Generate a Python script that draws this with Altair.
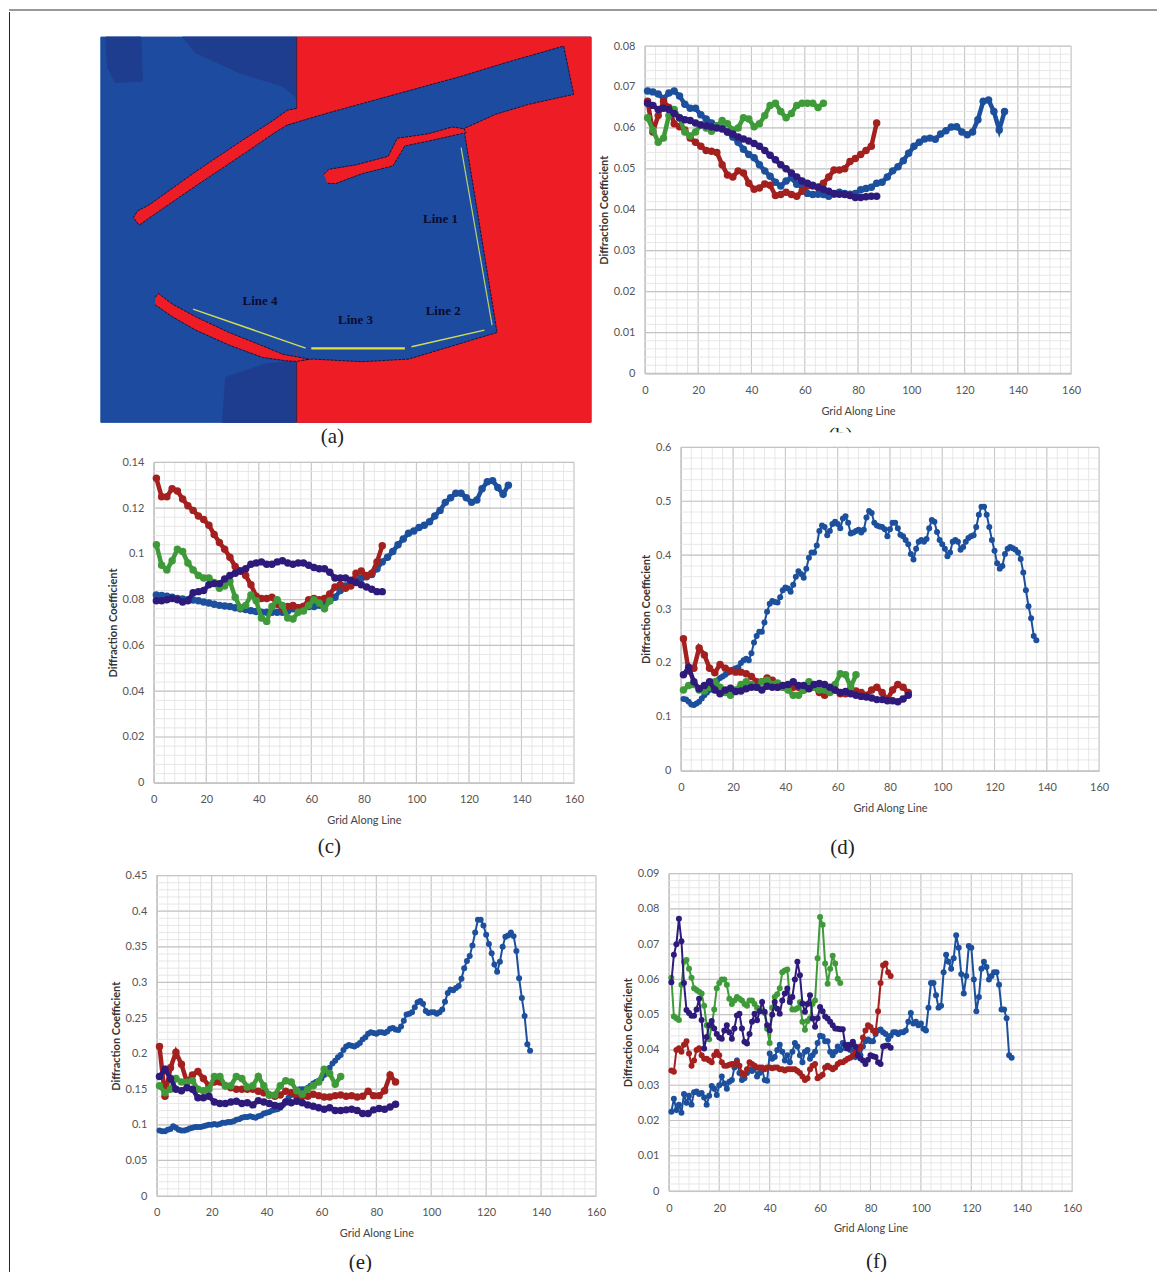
import altair as alt
import pandas as pd

BLUE, RED, GREEN, PURPLE = "#1c4f9c", "#a3201f", "#3f9a3a", "#2e1a7a"
X_TICKS = list(range(0, 161, 20))
X_MINOR = list(range(0, 161, 4))

# values are stored as integers; "div" turns them into the axis units. "step" is the spacing along x.
b_blue = [690,688,683,672,685,690,678,658,648,648,632,622,612,605,600,590,578,565,548,535,527,510,495,482,467,458,470,478,462,458,440,437,438,437,433,438,443,440,438,440,449,452,455,465,467,480,495,505,520,538,555,565,573,575,572,585,593,602,603,590,583,590,620,665,668,640,595,640]
b_red = [665,590,630,665,650,610,603,595,575,565,555,545,543,540,510,485,480,495,490,465,450,453,463,460,435,437,443,437,433,445,458,458,455,465,480,497,497,500,518,525,535,545,555,612]
b_green = [625,595,565,575,630,645,625,590,580,590,608,600,592,605,618,610,595,600,625,622,603,610,630,655,660,640,625,635,655,660,660,660,650,660]
b_purple = [660,655,645,648,645,635,625,620,618,612,607,605,602,600,597,590,585,578,573,568,562,555,545,533,522,510,500,490,480,470,465,460,455,450,445,440,438,437,435,430,430,432,433,433]

c_blue = [820,818,815,810,805,803,800,798,795,790,785,780,775,772,770,765,760,757,752,748,745,745,745,745,745,750,760,765,770,770,770,775,780,795,810,840,860,875,885,895,900,910,935,965,985,1010,1040,1065,1090,1100,1115,1125,1140,1165,1190,1225,1245,1265,1265,1245,1225,1235,1285,1315,1320,1290,1260,1300]
c_red = [1330,1250,1250,1285,1275,1240,1210,1190,1165,1150,1125,1085,1050,1020,985,945,925,905,865,815,805,805,810,780,760,770,775,765,770,800,805,800,805,825,855,865,850,860,915,925,905,915,965,1035]
c_green = [1040,950,930,970,1020,1010,960,930,905,895,895,875,850,860,880,810,765,775,820,795,720,705,770,800,775,720,715,745,750,775,800,785,760,795]
c_purple = [795,795,800,805,800,790,795,830,835,840,865,870,870,890,905,915,925,935,955,960,965,955,955,965,970,960,955,960,960,950,940,935,935,920,895,895,895,885,875,865,855,845,835,835]

d_blue = [133,132,128,123,122,125,128,134,140,145,150,155,160,168,172,175,178,182,186,188,190,192,200,205,208,205,218,238,250,258,258,275,295,310,315,313,312,322,335,340,338,332,345,360,370,365,358,375,395,405,405,418,445,455,452,437,445,458,462,458,450,468,472,460,440,442,445,447,442,447,470,482,478,460,455,453,452,448,435,448,460,460,450,438,435,428,420,402,392,412,425,428,425,430,450,465,462,443,428,420,412,398,405,425,428,425,410,415,425,432,435,437,452,475,490,490,475,452,428,408,385,375,380,402,412,415,413,410,405,393,368,335,305,283,250,242]
d_red = [245,185,190,228,215,190,182,197,190,185,183,183,180,175,165,165,172,168,155,155,155,155,155,150,155,155,145,140,150,150,143,143,150,148,145,140,150,155,145,132,150,160,155,145]
d_green = [150,158,160,150,148,155,165,155,145,140,150,160,165,160,155,165,168,160,163,155,150,140,140,150,165,155,150,150,145,160,180,178,155,178]
d_purple = [178,192,165,152,158,165,150,143,150,153,147,148,152,155,155,150,157,155,155,158,160,165,158,158,152,160,162,160,155,150,145,147,143,140,138,137,135,132,132,130,130,128,133,140]

e_blue = [92,91,91,93,94,98,96,93,92,92,93,95,96,97,97,97,98,99,100,100,101,100,101,103,103,104,104,105,107,108,110,111,111,112,111,110,112,113,116,117,118,120,121,122,124,128,133,138,142,145,148,150,150,150,152,155,158,160,162,165,170,175,180,186,190,195,198,205,210,212,211,210,212,215,220,223,228,230,229,228,230,230,229,231,235,236,234,233,238,246,255,256,258,265,272,274,270,260,257,258,258,256,258,262,273,285,290,289,292,295,305,320,330,337,352,370,388,388,380,367,354,341,325,315,329,350,364,366,370,365,344,306,278,253,213,204]
e_red = [210,140,180,202,185,160,170,175,165,155,160,160,155,152,150,150,150,150,147,145,142,140,142,147,145,140,140,140,143,141,139,139,141,142,140,141,139,140,147,141,141,148,170,160]
e_green = [155,145,150,165,160,160,162,150,148,150,168,168,155,155,168,165,153,155,168,155,142,142,155,162,160,148,143,150,155,160,178,172,157,168]
e_purple = [168,178,165,150,148,152,150,138,138,140,132,130,130,132,133,130,131,128,134,132,130,127,126,132,131,133,131,128,126,124,122,124,120,120,121,122,120,116,116,121,123,122,125,129]

f_blue = [225,262,230,245,222,275,250,270,245,280,282,275,278,265,245,270,298,290,272,300,325,305,290,310,315,350,370,335,315,320,335,345,340,350,325,335,345,315,313,390,375,380,400,415,395,370,385,365,395,420,410,385,365,395,400,375,385,395,420,440,438,425,425,395,385,395,410,400,420,405,415,400,420,380,400,385,410,425,430,425,425,445,455,458,450,445,430,440,450,450,445,450,450,455,480,505,475,480,470,475,460,455,520,590,590,555,520,525,620,670,650,630,660,725,690,615,560,610,695,690,600,510,550,630,650,635,600,610,620,620,585,515,515,490,385,378]
f_red = [342,338,400,405,395,415,425,390,355,370,400,405,385,375,375,370,365,385,395,385,365,355,355,358,360,360,365,355,335,330,345,365,360,355,350,350,350,345,350,350,348,350,350,345,345,342,345,345,345,345,340,335,325,315,320,345,355,360,320,325,330,350,355,350,345,350,360,365,365,370,375,378,385,395,400,410,435,455,470,465,455,450,510,590,640,645,620,610]
f_green = [605,495,490,485,585,650,655,630,605,575,570,565,560,525,470,430,470,515,575,590,600,600,585,545,530,540,550,545,540,530,525,540,540,530,520,515,510,505,460,420,520,550,558,575,620,625,628,545,515,515,518,535,480,457,482,490,530,540,660,777,755,645,588,630,667,645,602,590]
f_purple = [592,670,700,772,708,590,513,505,497,497,515,545,485,404,437,470,482,461,445,435,432,455,470,450,432,461,498,503,461,423,418,445,480,503,484,510,536,508,470,456,500,536,517,503,540,560,574,536,550,600,650,612,532,508,530,555,489,466,490,522,510,495,489,480,470,461,460,459,459,414,404,415,423,410,385,376,370,360,372,385,382,380,365,360,410,412,413,406]

# map of panel (a), in image coordinates (y downwards)
MAP_FRAME = [[15,18],[1487,18],[1487,1175],[15,1175]]
MAP_RED = [[603,18],[1487,18],[1487,1175],[603,1175]]
MAP_DARK = [
    [[30,18],[135,18],[140,150],[60,155],[35,110]],
    [[260,18],[603,18],[603,200],[560,165],[430,125],[300,65]],
    [[380,1175],[603,1175],[603,990],[510,1000],[390,1040]],
]
MAP_WATER = [[575,282],[700,245],[900,190],[1100,135],[1230,95],[1405,45],[1435,190],[1300,220],[1200,250],[1105,293],[1205,905],[940,985],[800,993],[650,985],[603,990]]
MAP_WALLS = [
    [[603,232],[575,238],[530,270],[440,328],[300,422],[160,522],[125,540],[113,560],[130,583],[155,565],[300,465],[450,365],[540,303],[575,282],[603,274]],
    [[685,430],[700,415],[780,402],[878,376],[905,322],[1000,308],[1070,288],[1105,293],[1112,305],[1000,330],[928,345],[892,405],[800,428],[720,458],[695,457]],
    [[178,800],[188,788],[230,820],[300,858],[400,905],[500,945],[560,970],[640,985],[603,992],[570,990],[500,980],[400,943],[300,898],[230,858],[190,830],[178,822]],
]
MAP_EDGES = [[[603,18],[603,232]], [[603,992],[603,1175]]]
MAP_LINES = [
    ([[1097,350],[1190,883]], "#b9d26a", 1.2),
    ([[948,948],[1167,898]], "#cfdc5a", 1.5),
    ([[647,953],[928,953]], "#e6df3c", 2.2),
    ([[292,835],[630,952]], "#cfdc5a", 1.5),
]
MAP_LABELS = ["Line 1", "Line 2", "Line 3", "Line 4"]
MAP_LABEL_X = [1035, 1043, 780, 493]
MAP_LABEL_Y = [563, 842, 867, 812]


def poly(points):
    return {"type": "Feature", "properties": {}, "geometry": {"type": "Polygon", "coordinates": [points + [points[0]]]}}


def line(points):
    return {"type": "Feature", "properties": {}, "geometry": {"type": "LineString", "coordinates": points}}


def geo(features, **mark):
    return alt.Chart(alt.Data(values=features)).mark_geoshape(**mark).project(type="identity")


def caption(text, x, y):
    return alt.Chart(pd.DataFrame({"t": [text]})).mark_text(
        font="Liberation Serif", fontSize=21, color="#222222"
    ).encode(text="t:N", x=alt.value(x), y=alt.value(y))


def spacer(w, h):
    return alt.Chart(pd.DataFrame({"v": [0]})).mark_point(opacity=0, size=1).encode(
        x=alt.value(w / 2), y=alt.value(h / 2)
    ).properties(width=w, height=h)


def map_panel(w, h):
    edge = "#14143c"
    dash = [3, 1]
    layers = [geo([poly(MAP_FRAME)], fill="#1c4ba0", stroke="#1c4ba0")]
    layers.append(geo([poly(p) for p in MAP_DARK], fill="#1f3d8e", stroke="#1f3d8e"))
    layers.append(geo([poly(MAP_RED)], fill="#ee1c25", stroke="#ee1c25"))
    layers.append(geo([poly(MAP_WATER)], fill="#1c4ba0"))
    layers.append(geo([line(p) for p in MAP_EDGES], filled=False, stroke="#20204a", strokeWidth=0.9))
    layers.append(geo([line(MAP_WATER)], filled=False, stroke=edge, strokeWidth=1, strokeDash=dash))
    layers.append(geo([poly(p) for p in MAP_WALLS], fill="#ee1c25"))
    layers.append(geo([line(p) for p in MAP_WALLS], filled=False, stroke=edge, strokeWidth=1, strokeDash=dash))
    for pts, col, sw in MAP_LINES:
        layers.append(geo([line(pts)], filled=False, stroke=col, strokeWidth=sw))
    labels = pd.DataFrame({"t": MAP_LABELS, "lon": MAP_LABEL_X, "lat": MAP_LABEL_Y})
    layers.append(
        alt.Chart(labels).mark_text(font="Liberation Serif", fontSize=13, fontWeight="bold", color="#0c0c30")
        .encode(text="t:N", longitude="lon:Q", latitude="lat:Q").project(type="identity")
    )
    return alt.layer(*layers).properties(width=w, height=h)


def panel(series, div, steps, ymax, ymajor, w, h, cap, top=None):
    xs = alt.Scale(domain=[0, 160], nice=False, zero=False)
    ys = alt.Scale(domain=[0, ymax], nice=False, zero=False)
    y_major = [round(ymajor * i, 6) for i in range(round(ymax / ymajor) + 1)]
    y_minor = [round(ymajor / 5 * i, 6) for i in range(round(ymax / ymajor) * 5 + 1)]
    x_axis = alt.Axis(values=X_TICKS, grid=False, ticks=False, labelPadding=11, labelFontSize=11,
                      labelFont="Lato", labelColor="#555555", domainColor="#a8a8a8", title="Grid Along Line",
                      titleFont="Lato", titleFontSize=11, titleFontWeight="normal", titleColor="#444444",
                      titlePadding=10, labelFlush=False, labelOverlap=False)
    y_axis = alt.Axis(values=y_major, grid=False, ticks=False, labelPadding=10, labelFontSize=11,
                      labelFont="Lato", labelColor="#555555", domainColor="#a8a8a8", format="~g",
                      title="Diffraction Coefficient", titleFont="Lato", titleFontSize=11, titleFontWeight="bold",
                      titleColor="#333333", titlePadding=4, labelOverlap=False)
    layers = []
    for vals, col, sw in [(X_MINOR, "#e4e4e4", 0.9), (X_TICKS, "#c9c9c9", 1.1)]:
        layers.append(alt.Chart(pd.DataFrame({"v": vals})).mark_rule(color=col, strokeWidth=sw)
                      .encode(x=alt.X("v:Q", scale=xs, axis=x_axis)))
    for vals, col, sw in [(y_minor, "#e4e4e4", 0.9), (y_major, "#c4c4c4", 1.2)]:
        layers.append(alt.Chart(pd.DataFrame({"v": vals})).mark_rule(color=col, strokeWidth=sw)
                      .encode(y=alt.Y("v:Q", scale=ys, axis=y_axis)))
    for (vals, col), step in zip(series, steps):
        df = pd.DataFrame({"x": [1 + step * i for i in range(len(vals))], "y": [v / div for v in vals]})
        xenc = alt.X("x:Q", scale=xs, axis=x_axis)
        yenc = alt.Y("y:Q", scale=ys, axis=y_axis)
        sw, size = (2.0, 36) if step == 1 else (4.5, 56)
        layers.append(alt.Chart(df).mark_line(color=col, strokeWidth=sw).encode(x=xenc, y=yenc))
        layers.append(alt.Chart(df).mark_circle(color=col, size=size, opacity=1).encode(x=xenc, y=yenc))
    if cap:
        layers.append(caption(*cap))
    if top:
        layers.extend(top)
    return alt.layer(*layers).properties(width=w, height=h)


cover_b = alt.Chart(pd.DataFrame({"v": [0]})).mark_rect(color="white").encode(
    x=alt.value(130), x2=alt.value(190), y=alt.value(-15), y2=alt.value(-1))

panel_b = panel([(b_blue, BLUE), (b_red, RED), (b_green, GREEN), (b_purple, PURPLE)], 10000, [2, 2, 2, 2],
                0.08, 0.01, 427, 328, None)
panel_c = panel([(c_blue, BLUE), (c_red, RED), (c_green, GREEN), (c_purple, PURPLE)], 10000, [2, 2, 2, 2],
                0.14, 0.02, 421, 321, ("(c)", 176, 385), top=[caption("(a)", 179, -25)])
panel_d = panel([(d_blue, BLUE), (d_red, RED), (d_green, GREEN), (d_purple, PURPLE)], 1000, [1, 2, 2, 2],
                0.6, 0.1, 419, 324, ("(d)", 162, 401), top=[caption("(b)", 160, -11), cover_b])
panel_e = panel([(e_blue, BLUE), (e_red, RED), (e_green, GREEN), (e_purple, PURPLE)], 1000, [1, 2, 2, 2],
                0.45, 0.05, 440, 321, ("(e)", 204, 388))
panel_f = panel([(f_blue, BLUE), (f_red, RED), (f_green, GREEN), (f_purple, PURPLE)], 10000, [1, 1, 1, 1],
                0.09, 0.01, 404, 318, ("(f)", 208, 389))

top_rule = alt.Chart(pd.DataFrame({"v": [0]})).mark_rule(color="#777777", strokeWidth=1.5).encode(
    x=alt.value(0), x2=alt.value(1150), y=alt.value(1)).properties(width=1150, height=2)
left_rule = alt.Chart(pd.DataFrame({"v": [0]})).mark_rule(color="#222222", strokeWidth=1).encode(
    x=alt.value(0.5), y=alt.value(0), y2=alt.value(1262)).properties(width=1, height=1262)


def h(*items):
    return alt.hconcat(*items, spacing=0)


def v(*items):
    return alt.vconcat(*items, spacing=0)


row1 = h(spacer(88, 1), map_panel(491, 386), spacer(5, 1), v(spacer(1, 3), panel_b))
row2 = h(spacer(97, 1), v(spacer(1, 2), panel_c), spacer(56, 1), v(spacer(1, 1), panel_d))
row3 = h(spacer(100, 1), v(spacer(1, 3), panel_e), spacer(16, 1), v(spacer(1, 1), panel_f))
body = v(spacer(1, 23), row1, row2, spacer(1, 9), row3)

chart = v(top_rule, h(left_rule, body)).properties(padding=0).configure_view(stroke=None)

chart.save("out.html", embed_options={"renderer": "svg", "actions": False})
